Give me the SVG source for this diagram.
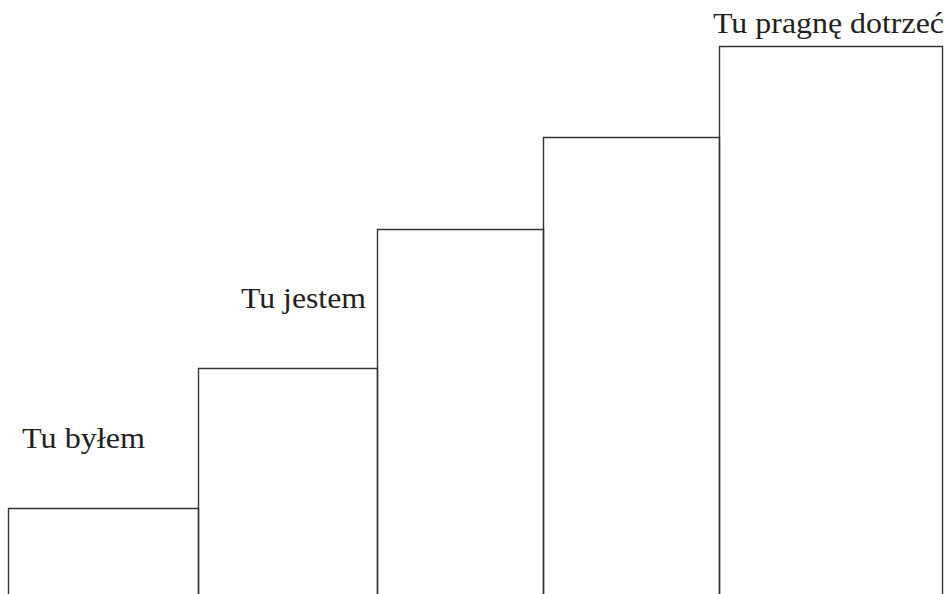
<svg xmlns="http://www.w3.org/2000/svg" width="947" height="594" viewBox="0 0 947 594">
<style>
.step{fill:none;stroke:#333;stroke-width:1.4}
.lbl{font-family:"Liberation Serif","Times New Roman",serif;font-size:29px;fill:#231f20}
</style>
<rect width="947" height="594" fill="#fff"/>
<g id="step1"><path class="step" d="M8.5,594 V508.5 H198.5 V594"/></g>
<g id="step2"><path class="step" d="M198.5,594 V368.5 H377.5 V594"/></g>
<g id="step3"><path class="step" d="M377.5,594 V229.5 H543.5 V594"/></g>
<g id="step4"><path class="step" d="M543.5,594 V137.5 H719.5 V594"/></g>
<g id="step5"><path class="step" d="M719.5,594 V46.5 H942.5 V594"/></g>
<g id="labels">
<text class="lbl" x="22" y="448" textLength="123" lengthAdjust="spacingAndGlyphs">Tu byłem</text>
<text class="lbl" x="241" y="308" textLength="125" lengthAdjust="spacingAndGlyphs">Tu jestem</text>
<text class="lbl" x="713" y="33" textLength="231" lengthAdjust="spacingAndGlyphs">Tu pragnę dotrzeć</text>
</g>
</svg>
